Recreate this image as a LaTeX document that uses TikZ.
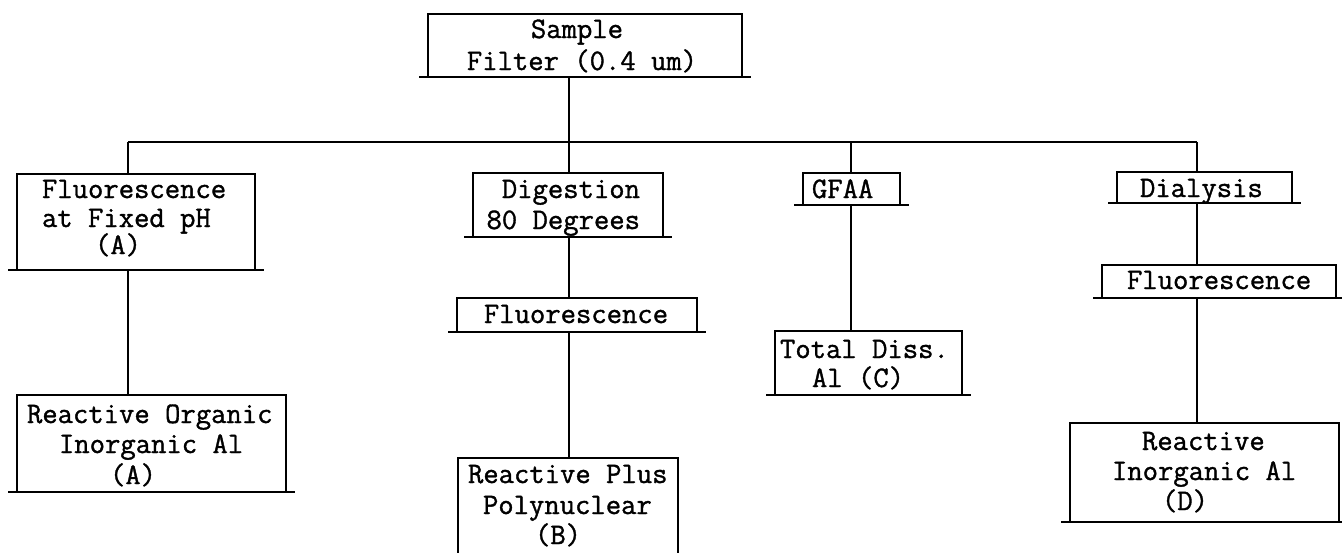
\documentclass[tikz,border=0pt]{standalone}
\usepackage{fontspec}
\setmonofont{Latin Modern Mono}[FakeBold=1.2]
\usetikzlibrary{calc}
\begin{document}
\begin{tikzpicture}[x=1pt,y=-1pt,
  box/.style={draw, line width=2.3pt, inner sep=0pt, outer sep=0pt, rectangle},
  txt/.style={inner sep=0pt, outer sep=0pt, font=\fontsize{29.8}{30}\selectfont\ttfamily},
  wire/.style={line width=2.3pt}]
\fill[white] (0,0) rectangle (1342,552);
\useasboundingbox (0,0) rectangle (1342,552);
% boxes
\node[box, minimum width=314pt, minimum height=63pt] (smp) at (585,45.5) {};
\node[box, minimum width=238pt, minimum height=96pt] (fa) at (136,222) {};
\node[box, minimum width=269pt, minimum height=97pt] (ro) at (151.5,443.5) {};
\node[box, minimum width=190pt, minimum height=64pt] (dg) at (568,205) {};
\node[box, minimum width=240pt, minimum height=34pt] (fb) at (577,315) {};
\node[box, minimum width=220pt, minimum height=108pt] (rp) at (568,512) {};
\node[box, minimum width=97pt, minimum height=32pt] (gf) at (851.5,189) {};
\node[box, minimum width=187pt, minimum height=64pt] (td) at (868.5,363) {};
\node[box, minimum width=175pt, minimum height=31pt] (dl) at (1204.5,187.5) {};
\node[box, minimum width=234pt, minimum height=33pt] (fd) at (1219,281.5) {};
\node[box, minimum width=269pt, minimum height=99pt] (ri) at (1204.5,472.5) {};
% extended underlines
\foreach \n in {smp,fa,ro,dg,fb,gf,td,dl,fd,ri}
  \draw[wire] ([xshift=-9pt]\n.south west) -- ([xshift=9pt]\n.south east);
% texts
\node[txt, anchor=base] (s1) at (577,38) {Sample};
\node[txt, anchor=base] (s2) at (582,70) {Filter (0.4 um)};
\node[txt, anchor=base west] (a1) at (42,198) {Fluorescence};
\node[txt, anchor=base west] (a2) at (42,227) {at Fixed pH};
\node[txt, anchor=base west] (a3) at (95,254) {(A)};
\node[txt, anchor=base west] (o1) at (27,423) {Reactive Organic};
\node[txt, anchor=base west] (o2) at (59,453) {Inorganic Al};
\node[txt, anchor=base west] (o3) at (110,484) {(A)};
\node[txt, anchor=base east] (d1) at (640,198) {Digestion};
\node[txt, anchor=base east] (d2) at (640,229) {80 Degrees};
\node[txt, anchor=base] (f1) at (576,323) {Fluorescence};
\node[txt, anchor=base west] (p1) at (468,483) {Reactive Plus};
\node[txt, anchor=base west] (p2) at (483,514) {Polynuclear};
\node[txt, anchor=base west] (p3) at (535,544) {(B)};
\node[txt, anchor=base west] (g1) at (812,198) {GFAA};
\node[txt, anchor=base west] (c1) at (780,358) {Total Diss.};
\node[txt, anchor=base west] (c2) at (812,387) {Al (C)};
\node[txt, anchor=base west] (y1) at (1140,197) {Dialysis};
\node[txt, anchor=base west] (y2) at (1127,289) {Fluorescence};
\node[txt, anchor=base west] (r1) at (1142,450) {Reactive};
\node[txt, anchor=base west] (r2) at (1112,480) {Inorganic Al};
\node[txt, anchor=base west] (r3) at (1162,510) {(D)};
% connectors
\coordinate (bA) at (128,142);
\coordinate (bB) at (569,142);
\coordinate (bC) at (851,142);
\coordinate (bD) at (1197,142);
\draw[wire] (smp.south -| bB) -- (bB);
\draw[wire] (bA) -- (bD);
\draw[wire] (bA) -- (fa.north -| bA);
\draw[wire] (fa.south -| bA) -- (ro.north -| bA);
\draw[wire] (bB) -- (dg.north -| bB);
\draw[wire] (dg.south -| bB) -- (fb.north -| bB);
\draw[wire] (fb.south -| bB) -- (rp.north -| bB);
\draw[wire] (bC) -- (gf.north -| bC);
\draw[wire] (gf.south -| bC) -- (td.north -| bC);
\draw[wire] (bD) -- (dl.north -| bD);
\draw[wire] (dl.south -| bD) -- (fd.north -| bD);
\draw[wire] (fd.south -| bD) -- (ri.north -| bD);
\end{tikzpicture}
\end{document}
